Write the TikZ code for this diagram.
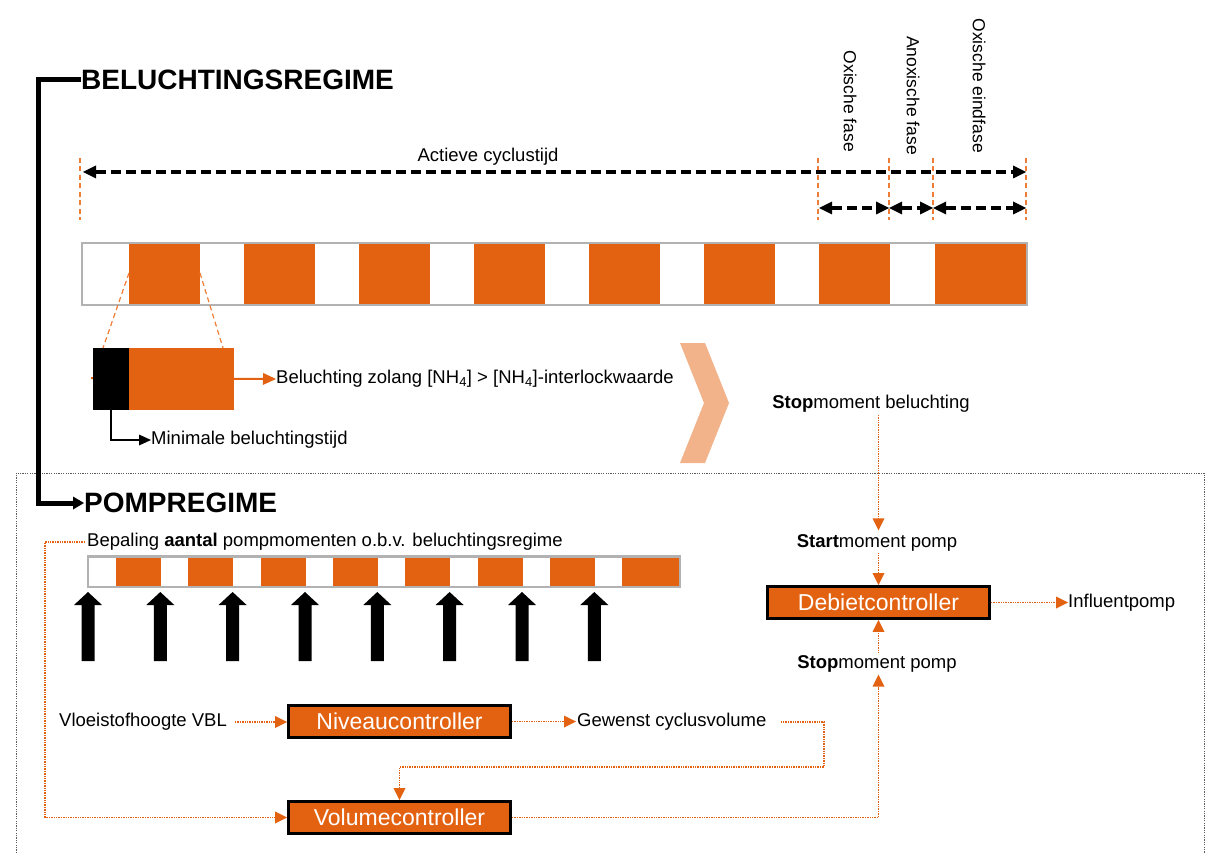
\documentclass[tikz,border=0pt]{standalone}
\usepackage{fontspec}
\setmainfont{Liberation Sans}
\usetikzlibrary{arrows.meta}
\definecolor{ora}{RGB}{227,98,17}
\definecolor{oral}{RGB}{240,125,55}
\definecolor{chev}{RGB}{242,178,138}
\definecolor{barg}{RGB}{178,178,178}
\definecolor{boxg}{RGB}{90,90,90}
\tikzset{
 txt/.style={inner sep=0pt, font=\fontsize{18.5}{22}\selectfont},
 vtxt/.style={inner sep=0pt, font=\fontsize{17.5}{21}\selectfont, rotate=-90, anchor=east},
 ttl/.style={inner sep=0pt, anchor=west, font=\fontsize{28}{32}\selectfont\bfseries},
 ctrl/.style={draw=black, line width=2.8pt, fill=ora, text=white, minimum width=222pt, minimum height=32pt, inner sep=0pt, font=\fontsize{23}{26}\selectfont},
 con/.style={color=ora, line width=1.4pt, dash pattern=on 1.4pt off 1pt, -{Triangle[length=12pt,width=12pt,line width=0pt]}},
 bdash/.style={line width=4pt, dash pattern=on 10pt off 5pt, {Triangle[length=13pt,width=13pt,line width=0pt]}-{Triangle[length=13pt,width=13pt,line width=0pt]}},
 odash/.style={draw=oral, line width=1.4pt, dash pattern=on 5pt off 3.5pt},
 bar/.style={draw=barg, line width=2.5pt, fill=white},
}
\begin{document}
\begin{tikzpicture}[x=1pt,y=-1pt]
\useasboundingbox (0,0) rectangle (1207,853);

% dashed frame of the pump regime
\draw[boxg, line width=0.9pt, dash pattern=on 1.2pt off 1.2pt] (16,853) -- (16,473) -- (1204,473) -- (1204,853);

% titles and bracket
\node[ttl] (ttlB) at (81,80) {BELUCHTINGSREGIME};
\node[ttl] (ttlP) at (84,503) {POMPREGIME};
\coordinate (b1) at (38.5,503);
\draw[line width=5pt, -{Triangle[length=11pt,width=13pt,line width=0pt]}] (ttlB.west) -| (b1) -- (ttlP.west);

% cycle time dimensioning
\node[txt] (act) at (488,157) {Actieve cyclustijd};
\node[vtxt] (ox1) at (850,152) {Oxische fase};
\node[vtxt] (anox) at (913,155) {Anoxische fase};
\node[vtxt] (oxe) at (979,153) {Oxische eindfase};
\foreach \x in {80,818,889,933,1026} \draw[odash] (\x,158) -- (\x,220);
\draw[bdash] (83,172) -- (1026,172);
\draw[bdash] (819,208) -- (889,208);
\draw[bdash] (889,208) -- (933,208);
\draw[bdash] (933,208) -- (1026,208);

% aeration bar
\draw[bar] (82,243) rectangle (1027,305);
\foreach \s in {129,244,359,474,589,704,819} \fill[ora] (\s,244.3) rectangle ({\s+71},303.7);
\fill[ora] (935,244.3) rectangle (1025.8,303.7);

% zoom lines
\draw[odash, line width=1.2pt] (129,273) -- (103,348);
\draw[odash, line width=1.2pt] (200,273) -- (223,348);

% inset
\coordinate (ia) at (91,378);
\node[txt, anchor=west] (nh) at (276,379) {Beluchting zolang [NH\textsubscript{4}] > [NH\textsubscript{4}]-interlockwaarde};
\draw[ora, line width=2pt, -{Triangle[length=13pt,width=12pt,line width=0pt]}] (ia) -- (nh.west);
\node[fill=black, inner sep=0pt, minimum width=36pt, minimum height=62pt] (insB) at (111,379) {};
\node[fill=ora, inner sep=0pt, minimum width=105pt, minimum height=62pt] (insO) at (181.5,379) {};
\node[txt, anchor=west] (minb) at (151,440) {Minimale beluchtingstijd};
\draw[line width=1.5pt, -{Triangle[length=12pt,width=11pt,line width=0pt]}] (insB.south) |- (minb.west);

% chevron
\fill[chev] (680,343) -- (705,343) -- (729,403) -- (705,463) -- (680,463) -- (704,403) -- cycle;

% pump bar
\node[txt, anchor=west] (bep) at (87,542) {Bepaling \textbf{aantal} pompmomenten o.b.v. beluchtingsregime};
\draw[bar] (88,556.5) rectangle (680,587);
\foreach \s in {116,188.3,260.6,333,405.3,477.6,550} \fill[ora] (\s,557.8) rectangle ({\s+45},585.7);
\fill[ora] (622,557.8) rectangle (678.8,585.7);
\foreach \c in {88,160.3,232.6,305,377.3,449.6,522,594.3}
  \fill[black] ({\c-6.5},661) -- ({\c-6.5},605) -- ({\c-14},605) -- (\c,592) -- ({\c+14},605) -- ({\c+6.5},605) -- ({\c+6.5},661) -- cycle;

% controllers
\node[ctrl] (niv) at (399.5,721.5) {Niveaucontroller};
\node[ctrl] (vol) at (399.5,817.5) {Volumecontroller};
\node[ctrl] (deb) at (878.5,602.5) {Debietcontroller};

% labels
\node[txt] (stopbel) at (871,404) {\textbf{Stop}moment beluchting};
\node[txt] (startp) at (877,543) {\textbf{Start}moment pomp};
\node[txt] (stopp) at (877,664) {\textbf{Stop}moment pomp};
\node[txt, anchor=west] (infl) at (1068,603) {Influentpomp};
\node[txt, anchor=west] (vbl) at (59,722) {Vloeistofhoogte VBL};
\node[txt, anchor=west] (gew) at (577,722) {Gewenst cyclusvolume};

% connectors
\draw[con, shorten <=2pt, shorten >=4pt] (stopbel.south -| deb.north) -- (startp.north -| deb.north);
\draw[con, shorten <=1pt] (startp.south -| deb.north) -- (deb.north);
\draw[con, shorten <=2pt] (stopp.north -| deb.south) -- (deb.south);
\draw[con, shorten >=2pt] (vol.east) -| (stopp.south -| deb.south);
\draw[con] (deb.east) -- (deb.east -| infl.west);
\draw[con, shorten <=8pt] (vbl.east) -- (vbl.east -| niv.west);
\draw[con, shorten >=1pt] (niv.east) -- (niv.east -| gew.west);
\coordinate (g1) at (824,767);
\draw[con, shorten <=14pt] (gew.east) -| (g1) -| (vol.north);
\coordinate (l1) at (45,817.5);
\draw[con, shorten <=2pt] (bep.west) -| (l1) -- (vol.west);
\end{tikzpicture}
\end{document}
